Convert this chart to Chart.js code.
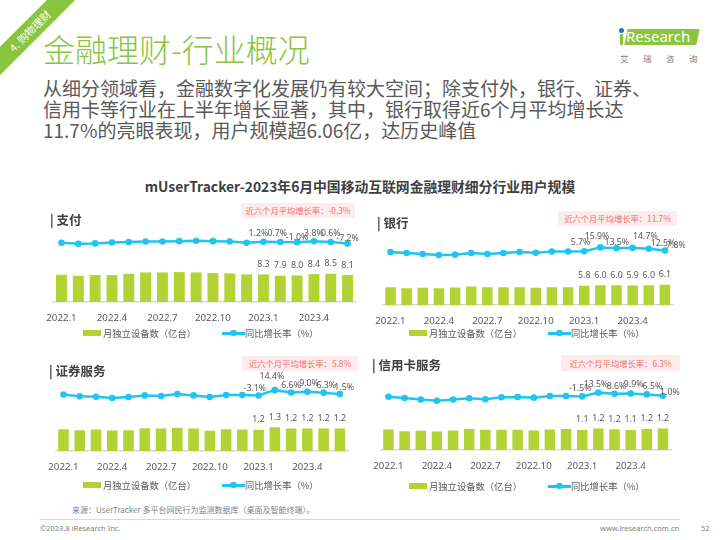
<!DOCTYPE html>
<html>
<head>
<meta charset="utf-8">
<script src="https://cdn.jsdelivr.net/npm/chart.js@4/dist/chart.umd.min.js"></script>
<style>
  body { margin: 0; }
  #page { position: relative; width: 720px; height: 540px; overflow: hidden; background: #fff;
          font-family: "Noto Sans CJK SC", "Noto Sans", sans-serif; }
  .abs { position: absolute; white-space: nowrap; }
  canvas { position: absolute; }
  .ptitle { font-size: 12.5px; font-weight: bold; color: #404040; line-height: 16px; }
  .badge { background: #FDECEC; color: #F0706E; font-size: 8.3px; text-align: center; }
  .leg { font-size: 9.3px; color: #595959; line-height: 12px; }
</style>
</head>
<body>
<div id="page">
  <!-- corner ribbon -->
  <div class="abs" style="left:-27px; top:21px; width:114px; height:20px; line-height:20px; background:#8BC43F;
       color:#fff; font-size:10.5px; text-align:center; transform:rotate(-45deg);">4. 购物理财</div>

  <div class="abs" style="left:43px; top:31px; font-size:32px; line-height:34px; font-weight:300; color:#8BC43F;">金融理财-行业概况</div>

  <div class="abs" style="left:43px; top:77px; font-size:19px; line-height:21px; color:#595959;">
    从细分领域看，金融数字化发展仍有较大空间；除支付外，银行、证券、<br>
    信用卡等行业在上半年增长显著，其中，银行取得近6个月平均增长达<br>
    11.7%的亮眼表现，用户规模超6.06亿，达历史峰值
  </div>

  <!-- logo -->
  <div class="abs" style="left:619px; top:28px; width:5px; height:5px; border-radius:50%; background:#2E6DB4;"></div>
  <div class="abs" style="left:620px; top:34px; width:3px; height:11px; background:#8BC43F;"></div>
  <div class="abs" style="left:626px; top:29px; width:72px; height:16px; background:#8BC43F; transform:skewX(-12deg);"></div>
  <div class="abs" style="left:626px; top:27px; font-family:'Noto Sans'; font-size:15px; line-height:19px; color:#fff;">Research</div>
  <div class="abs" style="left:620px; top:53px; font-size:8.5px; line-height:11px; color:#808080; letter-spacing:14.5px;">艾瑞咨询</div>

  <div class="abs" style="left:0; width:720px; top:178px; text-align:center; font-size:13.8px; line-height:16px; font-weight:bold; color:#404040;">mUserTracker-2023年6月中国移动互联网金融理财细分行业用户规模</div>

  <canvas id="c1" width="332" height="132" style="left:36px; top:200px;"></canvas>
  <canvas id="c2" width="320" height="135" style="left:365px; top:200px;"></canvas>
  <canvas id="c3" width="322" height="126" style="left:38px; top:355px;"></canvas>
  <canvas id="c4" width="320" height="125" style="left:363px; top:355px;"></canvas>

  <div class="abs ptitle" style="left:50px; top:212px;">| 支付</div>
  <div class="abs ptitle" style="left:377px; top:215px;">| 银行</div>
  <div class="abs ptitle" style="left:49px; top:363px;">| 证券服务</div>
  <div class="abs ptitle" style="left:372px; top:357px;">| 信用卡服务</div>

  <div class="abs badge" id="b1" style="left:241px; top:203px; width:114px; height:15px; line-height:15px;"></div>
  <div class="abs badge" id="b2" style="left:558px; top:211px; width:119px; height:15px; line-height:15px;"></div>
  <div class="abs badge" id="b3" style="left:242px; top:356px; width:116px; height:15px; line-height:15px;"></div>
  <div class="abs badge" id="b4" style="left:561px; top:355px; width:119px; height:16px; line-height:16px;"></div>

  <div id="legends"></div>

  <div class="abs" style="left:72px; top:505px; font-size:8px; line-height:10px; color:#7F7F7F;">来源：UserTracker 多平台网民行为监测数据库（桌面及智能终端）。</div>
  <div class="abs" style="left:40px; top:519px; width:640px; height:1px; background:#D9D9D9;"></div>
  <div class="abs" style="left:40px; top:523px; font-family:'Noto Sans'; font-size:7.5px; line-height:10px; color:#7F7F7F;">©2023.8 iResearch Inc.</div>
  <div class="abs" style="left:600px; top:523px; font-family:'Noto Sans'; font-size:7.5px; line-height:10px; color:#7F7F7F;">www.iresearch.com.cn</div>
  <div class="abs" style="left:701px; top:523px; font-family:'Noto Sans'; font-size:7.5px; line-height:10px; color:#7F7F7F;">52</div>
</div>

<script>
// months on the x axis
const months = ['2022.1','2022.2','2022.3','2022.4','2022.5','2022.6','2022.7','2022.8','2022.9',
  '2022.10','2022.11','2022.12','2023.1','2023.2','2023.3','2023.4','2023.5','2023.6'];

// 月独立设备数（亿台）
const payDevices  = [8.2, 7.9, 8.1, 8.1, 8.5, 8.9, 8.9, 9.0, 8.9, 8.7, 8.6, 8.3, 8.3, 7.9, 8.0, 8.4, 8.5, 8.1];
const bankDevices = [5.4, 5.1, 5.2, 5.1, 5.3, 5.6, 5.4, 5.4, 5.4, 5.2, 5.4, 5.4, 5.8, 6.0, 6.0, 5.9, 6.0, 6.1];
const secDevices  = [1.19, 1.14, 1.18, 1.12, 1.14, 1.25, 1.23, 1.28, 1.23, 1.11, 1.19, 1.18, 1.16, 1.30, 1.24, 1.23, 1.23, 1.23];
const cardDevices = [1.15, 1.06, 1.08, 1.05, 1.10, 1.19, 1.14, 1.14, 1.14, 1.10, 1.15, 1.19, 1.13, 1.21, 1.17, 1.13, 1.19, 1.21];

// 同比增长率（%）
const payGrowth  = [-3.2, -7.8, -6.3, -1.6, 0.0, 3.1, 3.1, 4.6, 6.2, 4.6, 3.1, -3.2, 1.2, 0.7, -1.0, 3.8, 0.6, -7.2];
const bankGrowth = [3.4, 0.9, -1.7, -4.3, -3.4, 0.9, -1.7, 0.9, 3.4, 1.7, 5.1, 5.1, 5.7, 15.9, 13.5, 14.7, 12.5, 7.8];
const secGrowth  = [0.4, -5.8, -6.8, -11.0, -7.9, -2.7, -4.8, 1.5, -2.7, -7.9, -1.6, -1.6, -3.1, 14.4, 6.6, 9.0, 6.3, 1.5];
const cardGrowth = [-2.6, -7.6, -14.0, -19.0, -14.0, -8.9, -12.7, -5.1, -3.8, -6.4, 0.0, 0.0, -1.5, 13.5, 8.6, 9.9, 6.5, 1.0];

// 近六个月平均增长率
const avgGrowth = ['-0.3%', '11.7%', '5.8%', '6.3%'];

const barColor = '#B3D234';
const lineColor = '#1FC4F1';

// draws the numbers above the last six bars and points
const valueLabels = {
  id: 'valueLabels',
  afterDatasetsDraw(chart, args, opts) {
    const ctx = chart.ctx;
    const bars = chart.getDatasetMeta(0).data;
    const pts = chart.getDatasetMeta(1).data;
    const barVals = chart.data.datasets[0].data;
    const lineVals = chart.data.datasets[1].data;
    ctx.save();
    ctx.font = '8.8px "Noto Sans"';
    ctx.fillStyle = '#595959';
    ctx.textAlign = 'center';
    ctx.textBaseline = 'middle';
    for (let i = 12; i < barVals.length; i++) {
      ctx.fillText(barVals[i].toFixed(1), bars[i].x, bars[i].y - 10);
      const off = opts.offsets[i - 12];
      ctx.fillText(lineVals[i].toFixed(1) + '%', pts[i].x + off[0], pts[i].y + off[1]);
    }
    ctx.restore();
  }
};

function makePanel(id, devices, growth, barMax, lineMin, lineMax, offsets) {
  return new Chart(document.getElementById(id), {
    type: 'bar',
    data: {
      labels: months,
      datasets: [{
        label: '月独立设备数（亿台）',
        data: devices,
        backgroundColor: barColor,
        barPercentage: 0.65,
        categoryPercentage: 1,
        yAxisID: 'y',
        order: 2
      }, {
        type: 'line',
        label: '同比增长率（%）',
        data: growth,
        borderColor: lineColor,
        backgroundColor: lineColor,
        borderWidth: 2.5,
        pointRadius: 3.3,
        pointBorderWidth: 0,
        tension: 0,
        yAxisID: 'y1',
        order: 1
      }]
    },
    options: {
      responsive: false,
      animation: false,
      devicePixelRatio: 1,
      layout: { padding: { left: 12, right: 12, top: 0, bottom: 0 } },
      plugins: {
        legend: { display: false },
        tooltip: { enabled: false },
        valueLabels: { offsets: offsets }
      },
      scales: {
        x: {
          grid: { display: false, drawTicks: false },
          border: { display: true, color: '#D9D9D9', width: 1.5 },
          ticks: {
            autoSkip: false,
            maxRotation: 0,
            padding: 10,
            color: '#595959',
            font: { family: 'Noto Sans', size: 9.7 },
            callback: (v, i) => (i % 3 === 0 ? months[i] : '')
          },
          afterFit: (scale) => { scale.height = 30; }
        },
        y: { display: false, min: 0, max: barMax },
        y1: { display: false, min: lineMin, max: lineMax }
      }
    },
    plugins: [valueLabels]
  });
}

makePanel('c1', payDevices, payGrowth, 29.5, -289.9, 184.4,
  [[-5, -8], [-3, -8], [0, -5], [0, -8], [0, -8.6], [0, -5.3]]);
makePanel('c2', bankDevices, bankGrowth, 30.6, -137.4, 131.4,
  [[-3.7, -8.3], [-3.3, -11], [0.3, -5.7], [12.7, -11.7], [14.3, -5.3], [11, -5]]);
makePanel('c3', secDevices, secGrowth, 5.05, -183.1, 115.5,
  [[-3.7, -7.3], [-2.9, -13.7], [0, -7], [1.7, -8], [2.7, -7.3], [4.3, -7]]);
makePanel('c4', cardDevices, cardGrowth, 5.135, -214.7, 147.3,
  [[-2, -7.7], [-2.3, -8], [2, -7], [3, -9], [5.7, -8], [7, -3.7]]);

// badges
avgGrowth.forEach((g, i) => {
  document.getElementById('b' + (i + 1)).textContent = '近六个月平均增长率：' + g;
});

// legends (one per panel)
const legendPos = [[83, 333], [409, 333], [83, 485], [409, 486]];
const legends = document.getElementById('legends');
legendPos.forEach(([x, y]) => {
  legends.insertAdjacentHTML('beforeend',
    `<div class="abs" style="left:${x}px; top:${y - 3}px; width:18px; height:6px; background:${barColor};"></div>
     <div class="abs leg" style="left:${x + 20}px; top:${y - 6}px;">月独立设备数（亿台）</div>
     <div class="abs" style="left:${x + 139}px; top:${y - 1}px; width:23px; height:2.5px; background:${lineColor};"></div>
     <div class="abs" style="left:${x + 147}px; top:${y - 3.3}px; width:6.6px; height:6.6px; border-radius:50%; background:${lineColor};"></div>
     <div class="abs leg" style="left:${x + 162}px; top:${y - 6}px;">同比增长率（%）</div>`);
});
</script>
</body>
</html>
